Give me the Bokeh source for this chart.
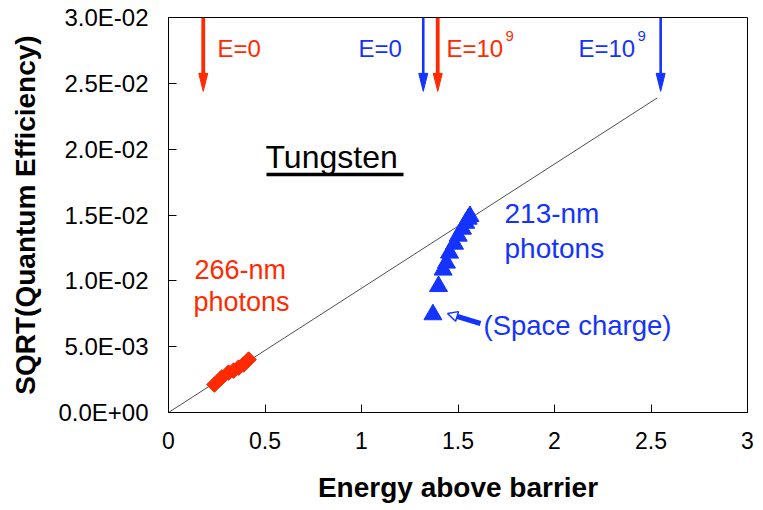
import numpy as np
from bokeh.plotting import figure
from bokeh.models import FixedTicker, Range1d, Arrow, NormalHead
from bokeh.core.properties import value
from bokeh.embed import file_html
from bokeh.resources import INLINE

# ---- data ----
red_x = [0.238, 0.275, 0.311, 0.337, 0.363, 0.389, 0.415]
red_y = [0.00212, 0.00265, 0.00303, 0.00318, 0.00341, 0.00364, 0.00402]

blue_x = [1.370, 1.399, 1.423, 1.440, 1.456, 1.482, 1.501, 1.523, 1.540, 1.553, 1.562]
blue_y = [0.00744, 0.00958, 0.01083, 0.01136, 0.01212, 0.01280, 0.01341, 0.01394, 0.01439, 0.01470, 0.01490]

fit_x = [0.0, 2.532]
fit_y = [0.0, 0.02389]

# barrier arrows (E=0 / E=1e9) for the two wavelengths
arrow_x = [0.18, 1.32, 1.395, 2.55]
arrow_tip_y = [0.02439, 0.02439, 0.02439, 0.02439]
arrow_series = ["red", "blue", "red", "blue"]

x_ticks = [0, 0.5, 1, 1.5, 2, 2.5, 3]
x_tick_labels = ["0", "0.5", "1", "1.5", "2", "2.5", "3"]
y_ticks = [0, 0.005, 0.01, 0.015, 0.02, 0.025, 0.03]
y_tick_labels = ["0.0E+00", "5.0E-03", "1.0E-02", "1.5E-02", "2.0E-02", "2.5E-02", "3.0E-02"]

RED = "#FF2A00"
BLUE = "#1433FF"
FONT = "Liberation Sans"

X0, X1, Y0, Y1 = 0, 3, 0, 0.03
W, H = 763, 510
ML, MR, MT, MB = 168, 16, 17, 98
FW, FH = W - ML - MR, H - MT - MB
sx = FW / (X1 - X0)   # px per x unit
sy = FH / (Y1 - Y0)   # px per y unit

p = figure(width=W, height=H, output_backend="svg", toolbar_location=None,
           x_range=Range1d(X0, X1), y_range=Range1d(Y0, Y1),
           min_border_left=ML, min_border_right=MR, min_border_top=MT, min_border_bottom=MB)
p.grid.visible = False
p.outline_line_color = "black"
p.outline_line_width = 1
p.background_fill_color = "white"
p.border_fill_color = "white"

for ax in (p.xaxis[0], p.yaxis[0]):
    ax.major_tick_in = 8
    ax.major_tick_out = 0
    ax.minor_tick_line_color = None
    ax.axis_line_color = "black"
    ax.major_tick_line_color = "black"
    ax.major_label_text_font = FONT
    ax.major_label_text_color = "black"
    ax.axis_label_text_font = FONT
    ax.axis_label_text_font_style = "bold"
    ax.axis_label_text_color = "black"

p.xaxis.ticker = FixedTicker(ticks=x_ticks)
p.xaxis.major_label_overrides = {t: l for t, l in zip(x_ticks, x_tick_labels)}
p.yaxis.ticker = FixedTicker(ticks=y_ticks)
p.yaxis.major_label_overrides = {t: l for t, l in zip(y_ticks, y_tick_labels)}
p.xaxis.major_label_text_font_size = "23px"
p.yaxis.major_label_text_font_size = "24px"
p.xaxis.major_label_standoff = 19
p.yaxis.major_label_standoff = 20
p.xaxis.axis_label = "Energy above barrier"
p.yaxis.axis_label = "SQRT(Quantum Efficiency)"
p.xaxis.axis_label_text_font_size = "28px"
p.yaxis.axis_label_text_font_size = "28px"
p.xaxis.axis_label_standoff = 20
p.yaxis.axis_label_standoff = 14

# fit line
p.line(fit_x, fit_y, line_color="black", line_width=0.7)

# data
p.scatter(red_x, red_y, marker="square", size=11, angle=np.pi / 4,
          fill_color=RED, line_color=RED)
p.scatter(blue_x, blue_y, marker="triangle", size=18,
          fill_color=BLUE, line_color=BLUE)

# barrier arrows
head_len = 18 / sy
head_hw = 4.5 / sx
col = {"red": RED, "blue": BLUE}
lw = {"red": 3.8, "blue": 2.6}
for ax_, ty, s in zip(arrow_x, arrow_tip_y, arrow_series):
    p.segment(x0=[ax_], y0=[Y1], x1=[ax_], y1=[ty + head_len * 0.8],
              line_color=col[s], line_width=lw[s])
    p.patch([ax_ - head_hw, ax_ + head_hw, ax_], [ty + head_len, ty + head_len, ty],
            fill_color=col[s], line_color=col[s], line_width=1)

def px2d(px, py):
    return (px - ML) / sx, (H - MB - py) / sy

def label(txt, px, py, color, size, style="normal"):
    x, y = px2d(px, py)
    p.text(x=[x], y=[y], text=[txt], text_color=color, text_font=value(FONT),
           text_font_size=size, text_align="left", text_baseline="alphabetic",
           text_font_style=style)

# E labels
label("E=0", 217, 48, RED, "24px")
label("E=0", 358, 48, BLUE, "24px")
label("E=10", 446, 48, RED, "24px")
label("9", 505, 35, RED, "15px")
label("E=10", 578, 48, BLUE, "24px")
label("9", 637, 35, BLUE, "15px")

# Tungsten
label("Tungsten", 265, 156, "black", "32px")
ux0, uy = px2d(266, 174)
ux1, _ = px2d(403, 174)
p.line([ux0, ux1], [uy, uy], line_color="black", line_width=3.5)

# series labels
label("266-nm", 194, 269, RED, "27px")
label("photons", 193, 301, RED, "27px")
label("213-nm", 504, 213, BLUE, "28px")
label("photons", 504, 248, BLUE, "28px")
label("(Space charge)", 483, 325, BLUE, "27.5px")

# hollow arrow to the space-charge point
tx, ty_ = px2d(480, 323)
hx, hy = px2d(447, 313)
p.add_layout(Arrow(end=NormalHead(size=10, fill_color="white", line_color=BLUE, line_width=1.5),
                   x_start=tx, y_start=ty_, x_end=hx, y_end=hy,
                   line_color=BLUE, line_width=5))
mx, my = px2d(455, 315.5)
p.segment(x0=[tx], y0=[ty_], x1=[mx], y1=[my], line_color="white", line_width=2.2)

open("out.html", "w").write(file_html(p, INLINE))
